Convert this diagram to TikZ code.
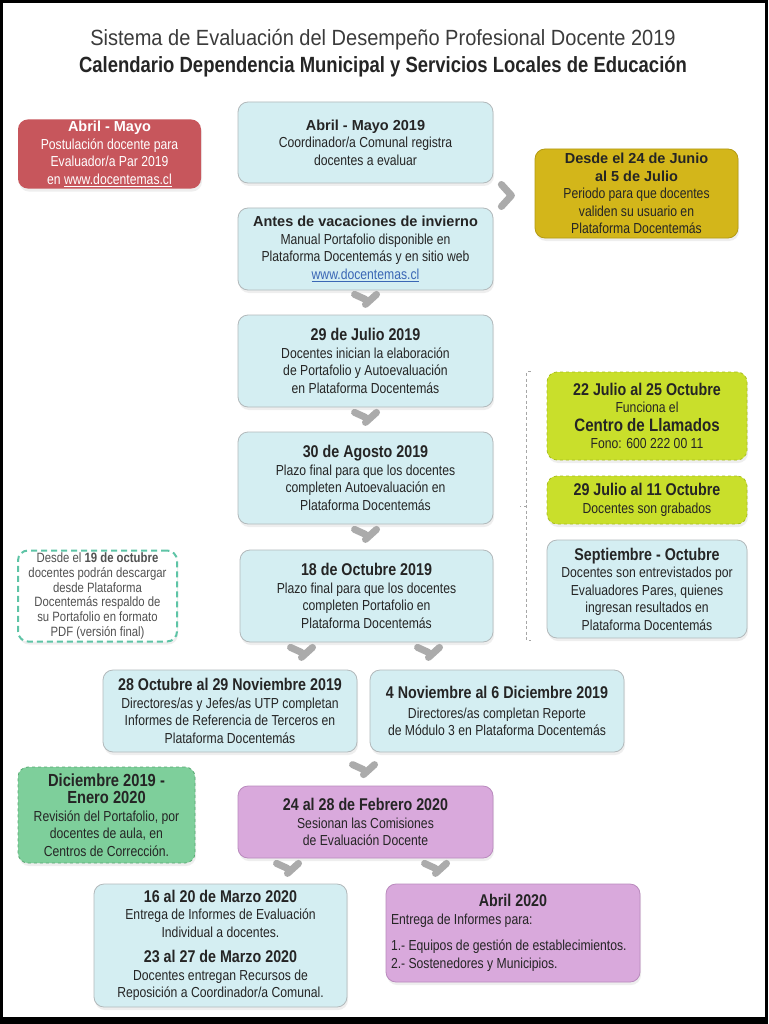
\documentclass[tikz,border=0pt]{standalone}
\usepackage{fontspec}
\setmainfont{Liberation Sans}[FakeStretch=0.84]
\newfontfamily\widefont{Liberation Sans}
\newfontfamily\titlefont{Liberation Sans}[FakeStretch=0.91]
\usepackage{tikz}
\usetikzlibrary{calc,shadows,positioning}

\definecolor{txt}{HTML}{252525}
\definecolor{cyanbox}{HTML}{D4EEF2}
\definecolor{boxline}{HTML}{B2B9BB}
\definecolor{redbox}{HTML}{C7565C}
\definecolor{yellowbox}{HTML}{D3B61A}
\definecolor{yellowline}{HTML}{B39A12}
\definecolor{limebox}{HTML}{C9DF2B}
\definecolor{limeline}{HTML}{A9BE1E}
\definecolor{greenbox}{HTML}{7ECF9B}
\definecolor{greenline}{HTML}{58A872}
\definecolor{purplebox}{HTML}{D9A9DC}
\definecolor{purpleline}{HTML}{B98ABD}
\definecolor{tealline}{HTML}{5EC4A6}
\definecolor{chevgray}{HTML}{ABABAB}
\definecolor{linkblue}{HTML}{3A67B5}

\newcommand\bodyfont{\fontsize{14.5}{17.5}\selectfont}
\newcommand\smallfont{\fontsize{13.5}{14.8}\selectfont}
\newcommand\hd[1]{{\fontsize{17}{17.5}\selectfont\bfseries #1}}
\newcommand\whd[1]{{\widefont\fontsize{14.5}{17.5}\selectfont\bfseries #1}}
\newcommand\bighd[1]{{\fontsize{17.5}{18.5}\selectfont\bfseries #1}}
\newcommand\chevdown[1]{\draw[chev] ($(#1)+(-11,-5)$) -- (#1) ++(0,5) -- ($(#1)+(11,-5)$);}

\tikzset{
  base/.style={rounded corners=10pt, align=center, font=\bodyfont, text=txt,
    inner sep=4pt, drop shadow={shadow xshift=1pt, shadow yshift=-3pt, opacity=0.13}},
  stepbox/.style={base, draw=boxline, line width=0.8pt, fill=cyanbox},
  purplebx/.style={base, draw=purpleline, line width=0.8pt, fill=purplebox},
  sidebox/.style={base, line width=0.8pt},
  chev/.style={draw=chevgray, line width=7pt, line cap=round, line join=round},
  bracket/.style={draw=gray!70, line width=0.9pt, dash pattern=on 3pt off 2.5pt}
}

\begin{document}
\begin{tikzpicture}[x=1pt, y=-1pt]
  % frame
  \fill[black] (0,0) rectangle (768,1024);
  \fill[white] (3,3) rectangle (765,1017);

  % title
  \node[text=txt!90] (tit1) at (383,40) {\titlefont\fontsize{22}{24}\selectfont Sistema de Evaluación del Desempeño Profesional Docente 2019};
  \node[text=txt] (tit2) at (383,67) {\fontsize{22}{24}\selectfont\bfseries Calendario Dependencia Municipal y Servicios Locales de Educación};

  % central column
  \node[stepbox, minimum width=255pt, minimum height=81pt] (boxA) at (365.5,142.5)
    {\whd{Abril - Mayo 2019}\\Coordinador/a Comunal registra\\docentes a evaluar};
  \node[stepbox, minimum width=255pt, minimum height=82pt] (boxB) at (365.5,249)
    {\whd{Antes de vacaciones de invierno}\\Manual Portafolio disponible en\\Plataforma Docentemás y en sitio web\\\textcolor{linkblue}{\underline{www.docentemas.cl}}};
  \node[stepbox, minimum width=255pt, minimum height=92pt] (boxC) at (365.5,361)
    {\hd{29 de Julio 2019}\\Docentes inician la elaboración\\de Portafolio y Autoevaluación\\en Plataforma Docentemás};
  \node[stepbox, minimum width=255pt, minimum height=92pt] (boxD) at (365.5,478)
    {\hd{30 de Agosto 2019}\\Plazo final para que los docentes\\completen Autoevaluación en\\Plataforma Docentemás};
  \node[stepbox, minimum width=253pt, minimum height=92pt] (boxE) at (366.5,596)
    {\hd{18 de Octubre 2019}\\Plazo final para que los docentes\\completen Portafolio en\\Plataforma Docentemás};

  % two parallel steps
  \node[stepbox, minimum width=254pt, minimum height=82pt] (boxF) at (230,711)
    {\hd{28 Octubre al 29 Noviembre 2019}\\Directores/as y Jefes/as UTP completan\\Informes de Referencia de Terceros en\\Plataforma Docentemás};
  \node[stepbox, minimum width=254pt, minimum height=82pt] (boxG) at (497,711)
    {\hd{4 Noviembre al 6 Diciembre 2019}\\[2pt]Directores/as completan Reporte\\de Módulo 3 en Plataforma Docentemás};

  % commissions
  \node[purplebx, minimum width=255pt, minimum height=72pt] (boxH) at (365.5,822)
    {\hd{24 al 28 de Febrero 2020}\\Sesionan las Comisiones\\de Evaluación Docente};
  \node[stepbox, minimum width=253pt, minimum height=123pt] (boxI) at (220.5,945.5)
    {\hd{16 al 20 de Marzo 2020}\\Entrega de Informes de Evaluación\\Individual a docentes.\\[8pt]
     \hd{23 al 27 de Marzo 2020}\\Docentes entregan Recursos de\\Reposición a Coordinador/a Comunal.};
  \node[purplebx, minimum width=254pt, minimum height=98pt, text width=244pt, align=flush left, inner sep=5pt] (boxJ) at (513,933)
    {\makebox[\linewidth]{\hd{Abril 2020}}\\Entrega de Informes para:\\[9pt]1.- Equipos de gestión de establecimientos.\\2.- Sostenedores y Municipios.};

  % left notes
  \node[sidebox, fill=redbox, text=white, minimum width=183pt, minimum height=68pt, inner sep=2pt] (red) at (109.5,154)
    {\whd{Abril - Mayo}\\Postulación docente para\\Evaluador/a Par 2019\\en \underline{www.docentemas.cl}};
  \node[base, draw=tealline, line width=2pt, dash pattern=on 6pt off 4pt, fill=white, text=txt!80, font=\smallfont,
    minimum width=159pt, minimum height=91pt, inner sep=2pt, drop shadow={opacity=0}] (teal) at (97.5,596)
    {Desde el \textbf{19 de octubre}\\docentes podrán descargar\\desde Plataforma\\Docentemás respaldo de\\su Portafolio en formato\\PDF (versión final)};
  \node[sidebox, fill=greenbox, draw=greenline, dashed, minimum width=177pt, minimum height=96pt, inner sep=2pt] (green) at (106.5,815)
    {\bighd{Diciembre 2019 -}\\\bighd{Enero 2020}\\Revisión del Portafolio, por\\docentes de aula, en\\Centros de Corrección.};

  % right notes
  \node[sidebox, fill=yellowbox, draw=yellowline, minimum width=203pt, minimum height=89pt, inner sep=2pt] (yellow) at (636.5,193.5)
    {\whd{Desde el 24 de Junio}\\\whd{al 5 de Julio}\\Periodo para que docentes\\validen su usuario en\\Plataforma Docentemás};
  \node[sidebox, fill=limebox, draw=limeline, dashed, minimum width=200pt, minimum height=88pt] (lime1) at (647,416)
    {\hd{22 Julio al 25 Octubre}\\Funciona el\\[1pt]{\fontsize{18}{19}\selectfont\bfseries Centro de Llamados}\\Fono: 600 222 00 11};
  \node[sidebox, fill=limebox, draw=limeline, dashed, minimum width=200pt, minimum height=48pt] (lime2) at (647,500)
    {\hd{29 Julio al 11 Octubre}\\Docentes son grabados};
  \node[stepbox, minimum width=200pt, minimum height=98pt] (sept) at (647,589)
    {\hd{Septiembre - Octubre}\\Docentes son entrevistados por\\Evaluadores Pares, quienes\\ingresan resultados en\\Plataforma Docentemás};

  % bracket
  \coordinate (brT) at ($(lime1.north west)+(-20,0)$);
  \coordinate (brB) at ($(sept.south west)+(-20,2)$);
  \draw[bracket] ($(brT)+(4,0)$) -- (brT) -- (brB) -- ($(brB)+(4,0)$);
  \draw[bracket] ($(brT)!0.5!(brB)$) -- ++(-7,0);

  % chevrons
  \chevdown{$(boxB.south)+(0,9)$}
  \chevdown{$(boxC.south)+(0,10)$}
  \chevdown{$(boxD.south)+(0,10)$}
  \chevdown{$(boxE.south)+(-65,10)$}
  \chevdown{$(boxE.south)+(62,10)$}
  \chevdown{$(boxH.north)+(-2,-16)$}
  \chevdown{$(boxH.south)+(-78,10)$}
  \chevdown{$(boxH.south)+(70,10)$}
  \coordinate (chR) at ($(boxA.south east)!0.5!(boxB.north east)+(13,0)$);
  \draw[chev] ($(chR)+(-5,-11)$) -- ($(chR)+(5,0)$) -- ($(chR)+(-5,11)$);
\end{tikzpicture}
\end{document}
